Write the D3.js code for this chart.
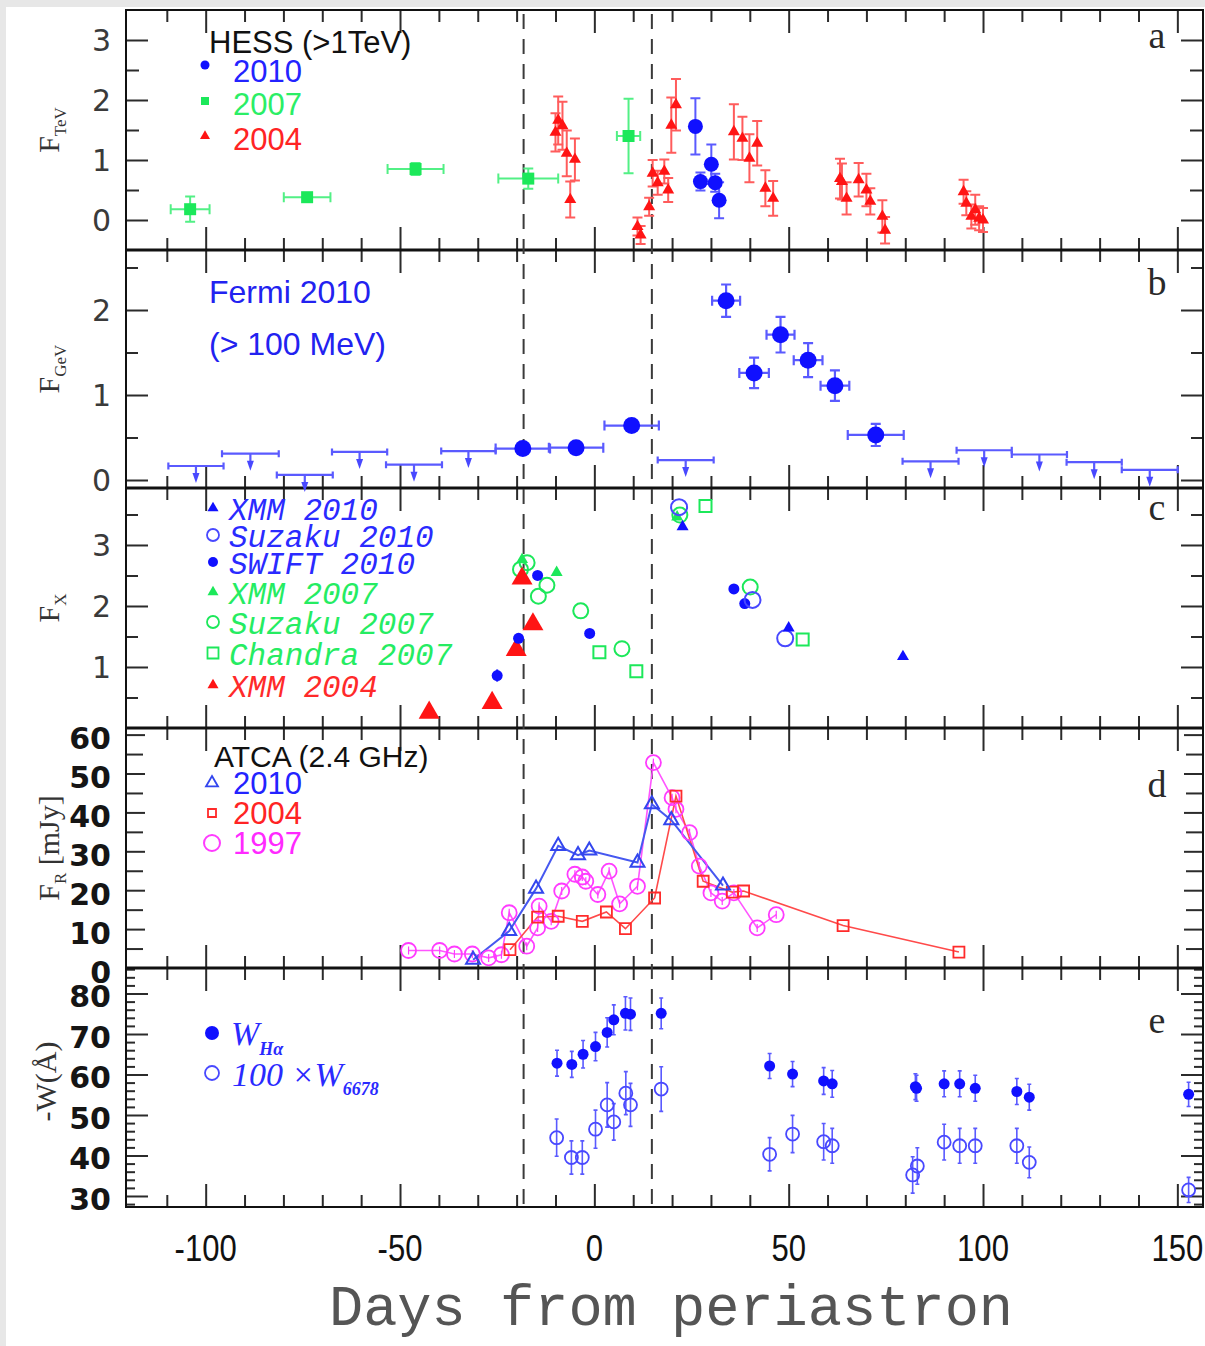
<!DOCTYPE html>
<html>
<head>
<meta charset="utf-8">
<script src="https://cdn.jsdelivr.net/npm/d3@7"></script>
<style>
  html, body { margin: 0; padding: 0; background: #e7e7e7; }
  svg { display: block; }
</style>
</head>
<body>
<svg id="chart" width="1205" height="1346"></svg>
<script>
// ---- values ----

const dayTicks = [-100, -50, 0, 50, 100, 150];
const dashedDays = [-18.2, 14.8];

// a: HESS (>1 TeV)   [day, flux, fluxErr]  (2007: [day, flux, dayErr, fluxErr])
const hess2010 = [[26.0,1.56,0.47],[27.3,0.64,0.15],[30.1,0.93,0.33],[31.1,0.62,0.15],[32.1,0.33,0.30]];
const hess2007 = [[-104.0,0.18,5.0,0.21],[-73.9,0.38,6.0,0.06],[-46.0,0.85,7.2,0.10],[-17.0,0.69,7.7,0.17],[8.8,1.40,3.0,0.62]];
const hess2004 = [
  [-10.0,1.46,0.32],[-9.3,1.66,0.40],[-8.2,1.57,0.40],[-7.1,1.11,0.38],[-5.0,1.01,0.35],[-6.2,0.34,0.30],
  [11.1,-0.11,0.15],[11.9,-0.25,0.15],[14.1,0.22,0.15],[15.0,0.78,0.22],[16.3,0.62,0.20],[18.0,0.81,0.20],
  [19.0,0.50,0.20],[19.8,1.58,0.46],[21.0,1.92,0.43],
  [35.9,1.47,0.46],[38.1,1.36,0.36],[39.9,1.03,0.40],[41.9,1.28,0.37],[44.0,0.53,0.30],[46.0,0.36,0.29],
  [63.2,0.69,0.33],[63.7,0.64,0.30],[64.9,0.36,0.27],[68.0,0.67,0.28],[70.0,0.50,0.27],[71.0,0.31,0.22],
  [74.1,0.06,0.27],[74.8,-0.17,0.22],
  [95.0,0.47,0.20],[95.7,0.28,0.20],[97.0,0.06,0.20],[98.0,0.17,0.25],[99.0,0.03,0.20],[100.0,0.00,0.20]
];

// b: Fermi 2010 (>100 MeV)   detections [day, dayErr, flux, fluxErr], upper limits [day, dayErr, flux]
const fermiPoints = [[-18.4,7.0,0.37,0.05],[-4.7,7.0,0.38,0.05],[9.6,7.0,0.64,0.06],[33.9,3.6,2.11,0.19],
  [41.1,3.8,1.26,0.18],[47.9,3.6,1.71,0.21],[55.0,3.7,1.41,0.20],[61.9,3.7,1.11,0.18],[72.4,7.2,0.53,0.13]];
const fermiLimits = [[-102.5,7.1,0.165],[-88.5,7.3,0.31],[-74.5,7.2,0.06],[-60.4,7.1,0.33],[-46.4,7.2,0.18],
  [-32.4,7.0,0.34],[23.5,7.2,0.235],[86.5,7.2,0.22],[100.3,7.1,0.35],[114.5,7.1,0.30],[128.6,7.1,0.21],[142.9,7.2,0.12]];

// c: X-ray   [day, flux]
const xmm2010 = [[22.7,3.30],[50.0,1.64],[79.4,1.17]];
const suzaku2010 = [[21.8,3.62],[40.7,2.10],[49.1,1.47]];
const swift2010 = [[-25.0,0.86,0.10],[-19.5,1.47,0.06],[-14.6,2.50,0.05],[-1.2,1.55,0.05],[35.9,2.28,0.06],[38.7,2.04,0.06]];
const xmm2007 = [[-18.6,2.76],[-9.7,2.55],[21.3,3.46]];
const suzaku2007 = [[-19.0,2.60],[-17.3,2.71],[-14.4,2.16],[-12.2,2.34],[-3.5,1.92],[7.1,1.30],[22.0,3.49],[40.1,2.31]];
const chandra2007 = [[1.3,1.24],[10.8,0.93],[28.6,3.64],[53.6,1.45]];
const xmm2004 = [[-42.5,0.25],[-26.3,0.41],[-20.1,1.28],[-18.6,2.45],[-15.8,1.70]];

// d: ATCA 2.4 GHz   [day, mJy]
const atca2010 = [[-31.2,2.1],[-21.9,9.5],[-15.0,20.4],[-9.3,31.4],[-4.2,29.0],[-1.3,30.2],[11.1,27.1],[14.8,42.1],[19.8,38.0],[33.1,21.2]];
const atca2004 = [[-21.7,4.7],[-14.6,13.1],[-9.3,13.3],[-3.1,12.0],[3.1,14.4],[8.0,10.1],[15.5,18.0],[21.0,44.2],[28.0,22.3],[35.5,19.5],[38.4,19.8],[64.0,10.9],[93.8,4.1]];
const atca1997 = [[-47.8,4.5],[-39.8,4.5],[-36.0,3.6],[-31.4,3.6],[-27.2,2.6],[-23.9,3.4],[-21.9,14.2],[-17.4,5.6],[-14.6,10.3],
  [-14.2,15.9],[-11.1,12.0],[-8.4,19.8],[-5.0,24.1],[-3.1,23.4],[-2.2,22.3],[0.9,18.9],[3.8,24.9],[6.5,16.5],[11.1,21.0],
  [15.2,52.8],[20.0,43.8],[21.0,40.8],[24.5,34.8],[27.0,26.2],[30.0,19.3],[32.9,17.2],[35.9,19.3],[41.9,10.3],[46.8,13.7]];

// e: equivalent widths   [day, -W, err]
const wHalpha = [[-9.6,62.8,3.2],[-5.8,62.5,3.2],[-2.9,65.0,3.4],[0.3,66.9,3.5],[3.3,70.4,3.6],[5.0,73.5,3.7],[8.0,75.1,4.1],
  [9.3,74.9,4.0],[17.2,75.1,3.8],[45.1,62.1,3.1],[51.0,60.1,3.1],[59.0,58.4,3.3],[61.2,57.7,3.3],[82.6,57.0,3.2],[82.9,56.6,3.2],
  [90.0,57.7,3.2],[94.0,57.7,3.2],[98.0,56.6,3.2],[108.7,55.8,3.2],[111.9,54.4,3.2],[152.9,55.1,3.0]];
const w6678 = [[-9.7,44.4,4.6],[-5.9,39.5,4.1],[-3.1,39.5,4.1],[0.3,46.5,4.7],[3.3,52.5,5.5],[5.0,48.3,4.5],[8.1,55.4,5.3],
  [9.3,52.5,5.3],[17.2,56.4,5.5],[45.1,40.3,4.1],[51.0,45.3,4.6],[59.0,43.4,4.5],[61.2,42.4,4.3],[81.9,35.2,4.5],[83.1,37.4,4.5],
  [90.0,43.3,4.4],[94.0,42.4,4.3],[98.0,42.4,4.3],[108.7,42.4,4.3],[111.9,38.3,3.8],[152.9,31.5,3.1]];

const labelsA = [0, 1, 2, 3], labelsB = [0, 1, 2], labelsC = [1, 2, 3];
const labelsD = [0, 10, 20, 30, 40, 50, 60], labelsE = [30, 40, 50, 60, 70, 80];

// ---- layout ----

const svg = d3.select('#chart');
svg.append('rect').attr('x', 6).attr('y', 7).attr('width', 1199).attr('height', 1339).attr('fill', '#fff');

const x = d3.scaleLinear().domain([-120.5, 156.6]).range([126, 1203]);

const panels = [
  { key: 'a', top: 10,  bottom: 250,  domain: [-0.5, 3.5],     minor: 0.5, major: 1,  lenMaj: 22, lenMin: 13, labels: labelsA, bold: false, dy: 0, title: ['F', 'TeV', ''] },
  { key: 'b', top: 250, bottom: 488,  domain: [-0.094, 2.706], minor: 0.5, major: 1,  lenMaj: 22, lenMin: 12, labels: labelsB, bold: false, dy: 0, title: ['F', 'GeV', ''] },
  { key: 'c', top: 488, bottom: 728,  domain: [0, 3.934],      minor: 0.5, major: 1,  lenMaj: 22, lenMin: 12, labels: labelsC, bold: false, dy: 0, title: ['F', 'X', ''] },
  { key: 'd', top: 728, bottom: 968,  domain: [0, 61.7],       minor: 5,   major: 10, lenMaj: 19, lenMin: 17, labels: labelsD, bold: true,  dy: 4, title: ['F', 'R', ' [mJy]'] },
  { key: 'e', top: 968, bottom: 1207, domain: [27.28, 86.3],   minor: 2,   major: 10, lenMaj: 22, lenMin: 9,  labels: labelsE, bold: true,  dy: 3, title: ['-W(Å)', '', ''] }
];
panels.forEach(p => p.y = d3.scaleLinear().domain(p.domain).range([p.bottom, p.top]));
const [pa, pb, pc, pd, pe] = panels;

const ink = '#2b2b2b';
const blue = '#1010ff', blueErr = '#5a5aff', blueOpen = '#4848ff';
const green = '#1ce85a', greenErr = '#52f085';
const red = '#ff1414', redErr = '#ff5c5c';
const magenta = '#ff3bff';

// ---- ticks, labels, frame ----

panels.forEach(p => {
  const g = svg.append('g').attr('class', 'axes-' + p.key);
  const inside = v => v > p.domain[0] + 1e-6 && v < p.domain[1] - 1e-6;
  const isMajor = v => Math.abs(v / p.major - Math.round(v / p.major)) < 1e-6;

  const xMinor = d3.range(-110, 157, 10).filter(v => v % 50 !== 0);
  [[xMinor, 12], [dayTicks, 23]].forEach(([vals, len]) => {
    g.append('g').attr('transform', `translate(0,${p.top})`).call(d3.axisBottom(x).tickValues(vals).tickSize(len).tickFormat(''));
    g.append('g').attr('transform', `translate(0,${p.bottom})`).call(d3.axisTop(x).tickValues(vals).tickSize(len).tickFormat(''));
  });

  const all = d3.range(Math.ceil(p.domain[0] / p.minor) * p.minor, p.domain[1], p.minor).filter(inside);
  [[all.filter(v => !isMajor(v)), p.lenMin], [all.filter(isMajor), p.lenMaj]].forEach(([vals, len]) => {
    g.append('g').attr('transform', 'translate(126,0)').call(d3.axisRight(p.y).tickValues(vals).tickSize(len).tickFormat(''));
    g.append('g').attr('transform', 'translate(1203,0)').call(d3.axisLeft(p.y).tickValues(vals).tickSize(len).tickFormat(''));
  });
  g.selectAll('.domain').remove();
  g.selectAll('.tick line').attr('stroke', ink).attr('stroke-width', 2);

  g.selectAll('text.ylab').data(p.labels).join('text')
    .attr('class', 'ylab')
    .attr('x', 111).attr('y', v => p.y(v) + p.dy).attr('dy', '0.36em')
    .attr('text-anchor', 'end')
    .attr('font-family', 'DejaVu Sans').attr('font-size', 30)
    .attr('font-weight', p.bold ? 'bold' : 'normal')
    .attr('fill', p.bold ? '#151515' : '#3a3a3a')
    .text(d => d);

  const t = svg.append('text')
    .attr('transform', `translate(${p.key === 'e' ? 56 : 59},${(p.top + p.bottom) / 2 + (p.key === 'e' ? -6 : 0)}) rotate(-90)`)
    .attr('text-anchor', 'middle')
    .attr('font-family', 'Liberation Serif').attr('font-size', 30).attr('fill', '#333');
  t.append('tspan').text(p.title[0]);
  if (p.title[1]) t.append('tspan').attr('dy', 7).attr('font-size', 17).text(p.title[1]);
  if (p.title[2]) t.append('tspan').attr('dy', -7).text(p.title[2]);

  svg.append('text')
    .attr('x', 1157).attr('y', { a: 48, b: 295, c: 520, d: 797, e: 1033 }[p.key])
    .attr('text-anchor', 'middle')
    .attr('font-family', 'Liberation Serif').attr('font-size', 38).attr('fill', '#2a2a2a')
    .text(p.key);
});

svg.append('rect').attr('x', 126).attr('y', 10).attr('width', 1077).attr('height', 1197)
  .attr('fill', 'none').attr('stroke', '#111').attr('stroke-width', 2);
svg.selectAll('line.sep').data(panels.slice(1)).join('line')
  .attr('class', 'sep')
  .attr('x1', 126).attr('x2', 1203).attr('y1', p => p.top).attr('y2', p => p.top)
  .attr('stroke', '#111').attr('stroke-width', 3);

svg.selectAll('line.periastron').data(dashedDays).join('line')
  .attr('class', 'periastron')
  .attr('x1', d => x(d)).attr('x2', d => x(d)).attr('y1', 14).attr('y2', 1205)
  .attr('stroke', '#3a3a3a').attr('stroke-width', 2).attr('stroke-dasharray', '15,10');

svg.selectAll('text.xlab').data(dayTicks).join('text')
  .attr('class', 'xlab')
  .attr('transform', d => `translate(${x(d)},1261) scale(0.84,1)`)
  .attr('text-anchor', 'middle')
  .attr('font-family', 'Liberation Sans').attr('font-size', 37).attr('fill', '#111')
  .text(d => d);

svg.append('text')
  .attr('x', 671).attr('y', 1325).attr('text-anchor', 'middle')
  .attr('font-family', 'Liberation Mono').attr('font-size', 57).attr('fill', '#555')
  .text('Days from periastron');

// ---- helpers ----

const vErr = (cx, y0, y1, cap) => `M${cx},${y0}V${y1}M${cx - cap},${y0}H${cx + cap}M${cx - cap},${y1}H${cx + cap}`;
const hErr = (cy, x0, x1, cap) => `M${x0},${cy}H${x1}M${x0},${cy - cap}V${cy + cap}M${x1},${cy - cap}V${cy + cap}`;
const tri = s => d3.symbol().type(d3.symbolTriangle).size(0.433 * s * s)();
const sq = s => d3.symbol().type(d3.symbolSquare).size(s * s)();

function paths(g, data, d, color, width) {
  g.append('g').selectAll('path').data(data).join('path')
    .attr('d', d).attr('fill', 'none').attr('stroke', color).attr('stroke-width', width);
}
function symbols(g, data, shape, px, py, fill, stroke, width) {
  g.append('g').selectAll('path').data(data).join('path')
    .attr('transform', d => `translate(${px(d)},${py(d)})`)
    .attr('d', shape)
    .attr('fill', fill).attr('stroke', stroke || 'none').attr('stroke-width', width || 0);
}
function circles(g, data, r, px, py, fill, stroke, width) {
  g.append('g').selectAll('circle').data(data).join('circle')
    .attr('cx', px).attr('cy', py).attr('r', r)
    .attr('fill', fill).attr('stroke', stroke || 'none').attr('stroke-width', width || 0);
}

// ---- a: HESS ----
const gA = svg.append('g');
const ya = pa.y;
paths(gA, hess2007, d => hErr(ya(d[1]), x(d[0] - d[2]), x(d[0] + d[2]), 5) + vErr(x(d[0]), ya(d[1] - d[3]), ya(d[1] + d[3]), 5), greenErr, 2);
paths(gA, hess2004, d => vErr(x(d[0]), ya(d[1] - d[2]), ya(d[1] + d[2]), 5), redErr, 2);
paths(gA, hess2010, d => vErr(x(d[0]), ya(d[1] - d[2]), ya(d[1] + d[2]), 5), blueErr, 2);
symbols(gA, hess2007, sq(12), d => x(d[0]), d => ya(d[1]), green);
symbols(gA, hess2004, tri(12), d => x(d[0]), d => ya(d[1]), red);
circles(gA, hess2010, 7.5, d => x(d[0]), d => ya(d[1]), blue);

circles(gA, [0], 4.5, () => 205, () => 65, blue);
symbols(gA, [0], sq(8), () => 205, () => 101, green);
symbols(gA, [0], tri(10), () => 205, () => 136, red);
const sans = 'Liberation Sans';
svg.append('text').attr('x', 209).attr('y', 53).attr('font-family', sans).attr('font-size', 31).attr('fill', '#111').text('HESS (>1TeV)');
[['2010', '#2323ff', 82], ['2007', '#2bee66', 115], ['2004', '#ff2424', 150]].forEach(([t, c, yy]) =>
  svg.append('text').attr('x', 233).attr('y', yy).attr('font-family', sans).attr('font-size', 31).attr('fill', c).text(t));

// ---- b: Fermi ----
const gB = svg.append('g');
const yb = pb.y;
paths(gB, fermiLimits, d => hErr(yb(d[2]), x(d[0] - d[1]), x(d[0] + d[1]), 3.5) + `M${x(d[0])},${yb(d[2])}V${yb(d[2]) + 9}`, blueErr, 2.2);
gB.append('g').selectAll('path').data(fermiLimits).join('path')
  .attr('d', d => { const cx = x(d[0]), cy = yb(d[2]); return `M${cx - 3.5},${cy + 7}L${cx + 3.5},${cy + 7}L${cx},${cy + 17}Z`; })
  .attr('fill', blueOpen);
paths(gB, fermiPoints, d => hErr(yb(d[2]), x(d[0] - d[1]), x(d[0] + d[1]), 5) + vErr(x(d[0]), yb(d[2] - d[3]), yb(d[2] + d[3]), 5), blueErr, 2.2);
circles(gB, fermiPoints, 8.5, d => x(d[0]), d => yb(d[2]), blue);
svg.append('text').attr('x', 209).attr('y', 303).attr('font-family', sans).attr('font-size', 32).attr('fill', '#2222f0').text('Fermi 2010');
svg.append('text').attr('x', 209).attr('y', 355).attr('font-family', sans).attr('font-size', 32).attr('fill', '#2222f0').text('(> 100 MeV)');

// ---- c: X-ray ----
const gC = svg.append('g');
const yc = pc.y;
const px = d => x(d[0]), pyc = d => yc(d[1]);
symbols(gC, chandra2007, sq(12), px, pyc, 'none', green, 2);
circles(gC, suzaku2007, 7.5, px, pyc, 'none', green, 2);
symbols(gC, xmm2007, tri(12), px, pyc, green);
symbols(gC, xmm2004, tri(21), px, pyc, red);
paths(gC, swift2010, d => vErr(x(d[0]), yc(d[1] - d[2]), yc(d[1] + d[2]), 0), blue, 2);
circles(gC, swift2010, 5.5, px, pyc, blue);
circles(gC, suzaku2010, 8, px, pyc, 'none', blueOpen, 2);
symbols(gC, xmm2010, tri(12), px, pyc, blue);

const legC = [
  ['XMM 2010', '#2a2aff', 520, 'tri', blue],
  ['Suzaku 2010', '#2a2aff', 547, 'ocirc', blueOpen],
  ['SWIFT 2010', '#2a2aff', 574, 'circ', blue],
  ['XMM 2007', '#25ec62', 604, 'tri', green],
  ['Suzaku 2007', '#25ec62', 634, 'ocirc', green],
  ['Chandra 2007', '#25ec62', 665, 'osq', green],
  ['XMM 2004', '#ff2a2a', 697, 'tri', red]
];
legC.forEach(([t, c, yy, m, mc]) => {
  const my = yy - 12;
  if (m === 'tri') gC.append('path').attr('transform', `translate(213,${my})`).attr('d', tri(11)).attr('fill', mc);
  if (m === 'circ') gC.append('circle').attr('cx', 213).attr('cy', my).attr('r', 5).attr('fill', mc);
  if (m === 'ocirc') gC.append('circle').attr('cx', 213).attr('cy', my).attr('r', 6).attr('fill', 'none').attr('stroke', mc).attr('stroke-width', 1.8);
  if (m === 'osq') gC.append('path').attr('transform', `translate(213,${my})`).attr('d', sq(11)).attr('fill', 'none').attr('stroke', mc).attr('stroke-width', 1.8);
  svg.append('text').attr('x', 229).attr('y', yy)
    .attr('font-family', 'Liberation Mono').attr('font-style', 'italic').attr('font-size', 31)
    .attr('fill', c).text(t);
});

// ---- d: ATCA ----
const gD = svg.append('g');
const yd = pd.y;
const lineD = d3.line().x(d => x(d[0])).y(d => yd(d[1]));
gD.append('path').datum(atca1997).attr('d', lineD).attr('fill', 'none').attr('stroke', '#ff55ff').attr('stroke-width', 1.6);
gD.append('path').datum(atca2004).attr('d', lineD).attr('fill', 'none').attr('stroke', '#ff4a4a').attr('stroke-width', 1.6);
gD.append('path').datum(atca2010).attr('d', lineD).attr('fill', 'none').attr('stroke', '#4658f0').attr('stroke-width', 2);
circles(gD, atca1997, 7.5, d => x(d[0]), d => yd(d[1]), 'none', magenta, 1.8);
paths(gD, atca1997, d => `M${x(d[0])},${yd(d[1]) - 4}V${yd(d[1]) + 4}`, magenta, 1.2);
symbols(gD, atca2004, sq(11), d => x(d[0]), d => yd(d[1]), 'none', '#ff2a2a', 1.8);
symbols(gD, atca2010, tri(14), d => x(d[0]), d => yd(d[1]), 'none', '#3346ee', 2);

svg.append('text').attr('x', 214).attr('y', 767).attr('font-family', sans).attr('font-size', 30).attr('fill', '#111').text('ATCA (2.4 GHz)');
gD.append('path').attr('transform', 'translate(212,783)').attr('d', tri(12)).attr('fill', 'none').attr('stroke', '#3346ee').attr('stroke-width', 1.8);
gD.append('path').attr('transform', 'translate(212,813)').attr('d', sq(8)).attr('fill', 'none').attr('stroke', '#ff2a2a').attr('stroke-width', 1.8);
gD.append('circle').attr('cx', 212).attr('cy', 843).attr('r', 8).attr('fill', 'none').attr('stroke', magenta).attr('stroke-width', 2);
[['2010', '#2323ff', 794], ['2004', '#ff2424', 824], ['1997', '#ff2aff', 854]].forEach(([t, c, yy]) =>
  svg.append('text').attr('x', 233).attr('y', yy).attr('font-family', sans).attr('font-size', 31).attr('fill', c).text(t));

// ---- e: equivalent widths ----
const gE = svg.append('g');
const ye = pe.y;
paths(gE, w6678, d => vErr(x(d[0]), ye(d[1] - d[2]), ye(d[1] + d[2]), 2), blueErr, 1.6);
paths(gE, wHalpha, d => vErr(x(d[0]), ye(d[1] - d[2]), ye(d[1] + d[2]), 2), blueErr, 1.6);
circles(gE, w6678, 6.5, d => x(d[0]), d => ye(d[1]), 'none', blueOpen, 1.8);
circles(gE, wHalpha, 5.5, d => x(d[0]), d => ye(d[1]), blue);

gE.append('circle').attr('cx', 212).attr('cy', 1033).attr('r', 7).attr('fill', blue);
gE.append('circle').attr('cx', 212).attr('cy', 1073).attr('r', 7).attr('fill', 'none').attr('stroke', blueOpen).attr('stroke-width', 1.8);
const serif = 'Liberation Serif';
const tHa = svg.append('text').attr('x', 231).attr('y', 1045).attr('font-family', serif).attr('font-style', 'italic').attr('font-size', 34).attr('fill', '#2a2aff');
tHa.append('tspan').text('W');
tHa.append('tspan').attr('dy', 10).attr('font-size', 18).attr('font-weight', 'bold').text('Hα');
const tHe = svg.append('text').attr('x', 232).attr('y', 1086).attr('font-family', serif).attr('font-style', 'italic').attr('font-size', 34).attr('fill', '#2a2aff');
tHe.append('tspan').text('100 ×W');
tHe.append('tspan').attr('dy', 9).attr('font-size', 18).attr('font-weight', 'bold').text('6678');
</script>
</body>
</html>
